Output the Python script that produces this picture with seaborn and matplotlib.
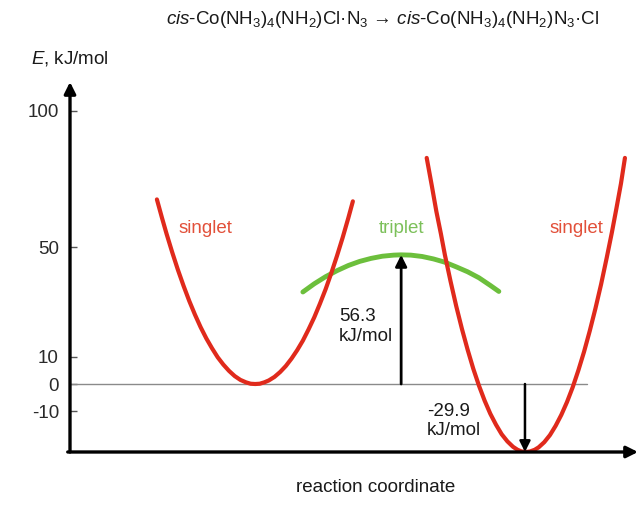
import matplotlib
matplotlib.use("Agg")
import matplotlib.pyplot as plt
import seaborn as sns
import pandas as pd

# ---- data (schematic energy profile) ----
left_x = [1.53, 1.62, 1.70, 1.80, 1.90, 2.00, 2.10, 2.20, 2.30, 2.40, 2.50, 2.60, 2.70,
          2.80, 2.90, 3.00, 3.10, 3.18, 3.26, 3.34, 3.42, 3.50, 3.60, 3.70, 3.80,
          3.90, 4.00, 4.10, 4.20, 4.30, 4.40, 4.50, 4.60, 4.70, 4.80, 4.90, 4.98]
left_E = [67.6, 60.8, 55.0, 48.2, 41.8, 35.9, 30.4, 25.4, 20.8, 16.7, 13.1, 9.8, 7.1,
          4.8, 2.9, 1.5, 0.6, 0.1, 0.0, 0.1, 0.6, 1.3, 2.6, 4.4, 6.6,
          9.3, 12.4, 15.9, 20.0, 24.4, 29.4, 34.7, 40.6, 46.9, 53.6, 60.8, 66.9]

trip_x = [4.10, 4.30, 4.50, 4.70, 4.90, 5.10, 5.30, 5.50, 5.70, 5.83, 6.00, 6.20,
          6.40, 6.60, 6.80, 7.00, 7.20, 7.40, 7.55]
trip_E = [33.7, 36.7, 39.3, 41.5, 43.4, 44.9, 46.0, 46.8, 47.2, 47.3, 47.2, 46.7,
          45.8, 44.6, 42.9, 41.1, 38.9, 36.1, 33.9]

right_x = [6.28, 6.37, 6.45, 6.53, 6.60, 6.70, 6.80, 6.90, 7.00, 7.10, 7.20, 7.30, 7.40,
           7.50, 7.60, 7.70, 7.80, 7.88, 7.95, 8.03, 8.10, 8.18, 8.25, 8.35, 8.45,
           8.55, 8.65, 8.75, 8.85, 8.95, 9.05, 9.15, 9.25, 9.35, 9.45, 9.54, 9.62,
           9.70, 9.77]
right_E = [82.8, 72.6, 63.2, 55.0, 47.3, 37.6, 28.5, 20.2, 12.6, 5.6, -0.6, -6.1, -10.9,
           -14.9, -18.4, -21.0, -23.0, -24.1, -24.7, -24.9, -24.7, -24.1, -23.2, -21.3, -18.7,
           -15.3, -11.3, -6.6, -1.2, 5.0, 11.8, 19.4, 27.6, 36.5, 46.3, 55.5, 64.3,
           73.4, 82.8]

ytick_vals = [100, 50, 10, 0, -10]
ytick_labels = ["100", "50", "10", "0", "-10"]

barrier_x, barrier_top = 5.83, 47.3
drop_x, drop_bottom = 8.01, -24.9
barrier_label = "56.3\nkJ/mol"
drop_label = "-29.9\nkJ/mol"

title = (r"$\mathit{cis}$-Co(NH$_3$)$_4$(NH$_2$)Cl·N$_3$ → "
         r"$\mathit{cis}$-Co(NH$_3$)$_4$(NH$_2$)N$_3$·Cl")

# ---- style ----
sns.set_style("white")
plt.rcParams["font.family"] = ["Liberation Sans", "DejaVu Sans"]
plt.rcParams["mathtext.fontset"] = "custom"
plt.rcParams["mathtext.rm"] = "Liberation Sans"
plt.rcParams["mathtext.it"] = "Liberation Sans:italic"
plt.rcParams["mathtext.bf"] = "Liberation Sans:bold"

RED = "#e02a1c"
RED_TXT = "#e2503a"
GREEN = "#6cbf3c"
GREEN_TXT = "#7cc05a"
FS = 13.5

fig = plt.figure(figsize=(6.39, 5.05), dpi=100)
ax = fig.add_axes([70 / 639, 53 / 505, 568 / 639, 370 / 505])
ax.set_xlim(0, 10)
ax.set_ylim(-24.9, 110.6)

df_l = pd.DataFrame({"x": left_x, "E": left_E})
df_t = pd.DataFrame({"x": trip_x, "E": trip_E})
df_r = pd.DataFrame({"x": right_x, "E": right_E})

# zero reference line
ax.plot([0, 9.10], [0, 0], color="#8a8a8a", lw=1.0, zorder=1)

sns.lineplot(data=df_l, x="x", y="E", ax=ax, sort=False, color=RED, lw=3.0, zorder=3)
sns.lineplot(data=df_r, x="x", y="E", ax=ax, sort=False, color=RED, lw=3.0, zorder=3)
sns.lineplot(data=df_t, x="x", y="E", ax=ax, sort=False, color=GREEN, lw=3.5, zorder=2)

# arrows for energies
ax.annotate("", xy=(barrier_x, barrier_top), xytext=(barrier_x, 0),
            arrowprops=dict(arrowstyle="-|>", color="black", lw=2.0,
                            mutation_scale=17, shrinkA=0, shrinkB=0), zorder=4)
ax.annotate("", xy=(drop_x, drop_bottom), xytext=(drop_x, 0),
            arrowprops=dict(arrowstyle="-|>", color="black", lw=1.8,
                            mutation_scale=16, shrinkA=0, shrinkB=0), zorder=4)

ax.text(4.74, 21.0, barrier_label, fontsize=FS, color="#1a1a1a",
        ha="left", va="center", linespacing=1.25)
ax.text(6.28, -13.5, drop_label, fontsize=FS, color="#1a1a1a",
        ha="left", va="center", linespacing=1.15)

# curve labels
ax.text(2.38, 57.0, "singlet", fontsize=FS, color=RED_TXT, ha="center", va="center")
ax.text(5.84, 57.0, "triplet", fontsize=FS, color=GREEN_TXT, ha="center", va="center")
ax.text(8.91, 57.0, "singlet", fontsize=FS, color=RED_TXT, ha="center", va="center")

# axes: hide spines, draw arrows
for s in ax.spines.values():
    s.set_visible(False)
ax.annotate("", xy=(0, 1.0), xytext=(0, 0), xycoords="axes fraction",
            arrowprops=dict(arrowstyle="-|>", color="black", lw=2.4,
                            mutation_scale=17, shrinkA=0, shrinkB=0),
            annotation_clip=False)
ax.annotate("", xy=(1.0, 0), xytext=(-0.004, 0), xycoords="axes fraction",
            arrowprops=dict(arrowstyle="-|>", color="black", lw=2.4,
                            mutation_scale=17, shrinkA=0, shrinkB=0),
            annotation_clip=False)

ax.set_yticks(ytick_vals)
ax.set_yticklabels(ytick_labels)
ax.tick_params(axis="y", direction="in", length=5, width=1, color="#555555",
               labelsize=FS, labelcolor="#2a2a2a", pad=8, left=True)
ax.set_xticks([])
ax.set_xlabel("")
ax.set_ylabel("")

fig.text(376 / 639, 1 - 487 / 505, "reaction coordinate", fontsize=FS,
         color="#1a1a1a", ha="center", va="center")
fig.text(70 / 639, 1 - 59 / 505, r"$\mathit{E}$, kJ/mol", fontsize=FS,
         color="#1a1a1a", ha="center", va="center")
fig.text(383 / 639, 1 - 20 / 505, title, fontsize=FS, color="#1a1a1a",
         ha="center", va="center")

fig.savefig("out.png", dpi=100, facecolor="white")
